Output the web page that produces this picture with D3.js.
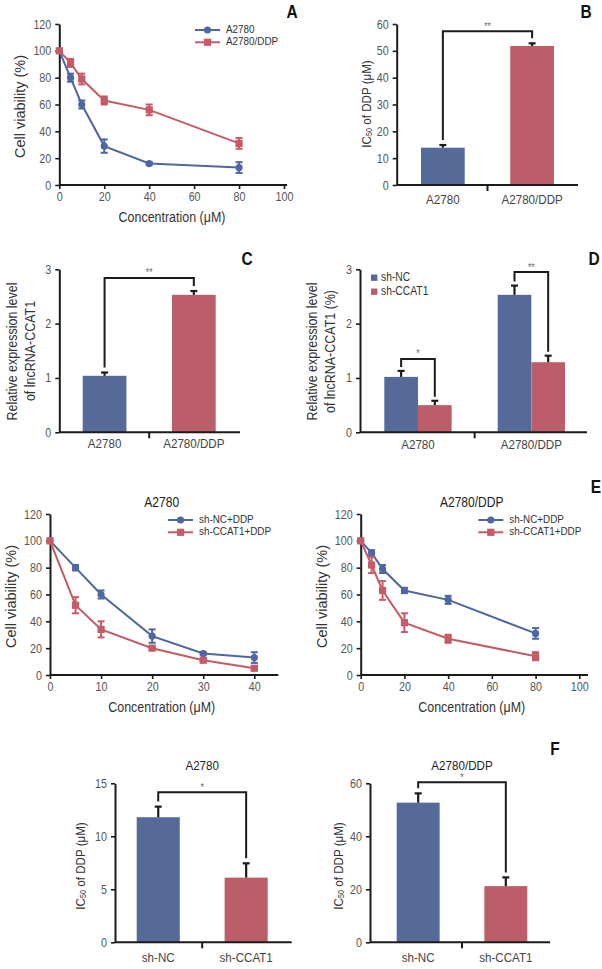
<!DOCTYPE html>
<html><head><meta charset="utf-8">
<script src="https://cdn.jsdelivr.net/npm/d3@7"></script>
<style>
body{margin:0;background:#fff}
svg{display:block}
</style></head><body><svg id="c" width="602" height="969"></svg>
<script>
// ---------------- DATA ----------------
// Panel A: dose response
const concA = [0, 5, 10, 20, 40, 80];
const a2780Viab = [100, 80, 60, 29, 16, 13];
const a2780Err  = [0, 3, 3, 5, 1, 4];
const ddpViab   = [100, 91, 79, 63, 56, 31];
const ddpErr    = [0, 3, 4, 3, 4, 4];
const viabTicks = [0, 20, 40, 60, 80, 100, 120];
const concTicksA = [0, 20, 40, 60, 80, 100];

// Panel B: IC50
const cellCats = ["A2780", "A2780/DDP"];
const ic50Vals = [13.9, 51.8];
const ic50Err  = [1.0, 1.0];
const ic50Ticks = [0, 10, 20, 30, 40, 50, 60];

// Panel C: expression
const exprVals = [1.04, 2.53];
const exprErr  = [0.06, 0.07];
const exprTicks = [0, 1, 2, 3];

// Panel D: knockdown
const shSeries = ["sh-NC", "sh-CCAT1"];
const knockVals = [[1.02, 0.50], [2.53, 1.29]];
const knockErr  = [[0.11, 0.08], [0.17, 0.12]];

// Panel E left (A2780)
const concE1 = [0, 5, 10, 20, 30, 40];
const e1NC    = [100, 80, 60, 29, 16, 13];
const e1NCErr = [0, 2, 3, 5, 1, 4];
const e1KD    = [100, 52, 34, 20, 11, 5];
const e1KDErr = [0, 6, 6, 1, 1, 1];
const concTicksE1 = [0, 10, 20, 30, 40];

// Panel E right (A2780/DDP)
const concE2 = [0, 5, 10, 20, 40, 80];
const e2NC    = [100, 91, 79, 63, 56, 31];
const e2NCErr = [0, 2, 3, 2, 3, 4];
const e2KD    = [100, 82, 63, 39, 27, 14];
const e2KDErr = [0, 6, 7, 7, 3, 3];

// Panel F
const shCats = ["sh-NC", "sh-CCAT1"];
const fA2780 = [11.8, 6.1];
const fA2780Err = [1.0, 1.35];
const fA2780Ticks = [0, 5, 10, 15];
const fDDP = [52.7, 21.2];
const fDDPErr = [3.5, 3.3];
const fDDPTicks = [0, 20, 40, 60];

// ---------------- STYLE ----------------
const BLUE = "#566a99", RED = "#bc5e69";
const LBLUE = "#4e67a2", LRED = "#c45b67";
const INK = "#1b1b1b", TICK = "#555", TITLE = "#333";
const FONT = '"Liberation Sans", Arial, sans-serif';
const SX = 0.86; // horizontal condensation of text

const svg = d3.select("#c").attr("font-family", FONT);

function styleAxis(a, fs) {
  a.attr("font-family", FONT).attr("font-size", fs || 12.5);
  a.selectAll(".tick line").attr("stroke", INK).attr("stroke-width", 1.6);
  a.selectAll(".tick text").attr("fill", TICK);
}
function yAxis(g, y, ticks, x0) {
  const a = g.append("g").attr("transform", `translate(${x0},0)`)
    .call(d3.axisLeft(y).tickValues(ticks).tickFormat(d3.format("d")).tickSize(4).tickSizeOuter(0).tickPadding(4));
  a.select(".domain").attr("stroke", INK).attr("stroke-width", 2);
  styleAxis(a);
  return a;
}
function vText(g, str, x, y, fs, sx) {
  return g.append("text").attr("transform", `translate(${x},${y}) rotate(-90)`)
    .attr("text-anchor", "middle").attr("dominant-baseline", "middle")
    .attr("font-size", fs).attr("fill", TITLE).attr("data-sx", sx || SX).text(str);
}
function ic50Title(g, x, y) {
  const t = g.append("text").attr("transform", `translate(${x},${y}) rotate(-90)`)
    .attr("text-anchor", "middle").attr("font-size", 13.5).attr("fill", TITLE)
    .attr("dominant-baseline", "middle");
  t.append("tspan").text("IC");
  t.append("tspan").text("50").attr("font-size", 8.5).attr("dy", 2);
  t.append("tspan").text(" of DDP (\u03bcM)").attr("dy", -2);
}
function panelLetter(txt, x, y) {
  svg.append("text").attr("x", x).attr("y", y).attr("text-anchor", "middle")
    .attr("dominant-baseline", "middle").attr("font-weight", "bold")
    .attr("font-size", 18).attr("fill", "#111").text(txt);
}
function marker(g, shape, cx, cy, color) {
  if (shape === "circle") g.append("circle").attr("cx", cx).attr("cy", cy).attr("r", 3.6).attr("fill", color);
  else g.append("rect").attr("x", cx - 3.6).attr("y", cy - 3.6).attr("width", 7.2).attr("height", 7.2).attr("fill", color);
}

function lineChart(cfg) {
  const g = svg.append("g");
  const x = d3.scaleLinear().domain(cfg.xDomain).range([cfg.left, cfg.xRight]);
  const y = d3.scaleLinear().domain([0, 120]).range([cfg.bottom, cfg.top]);
  const xa = g.append("g").attr("transform", `translate(0,${cfg.bottom})`)
    .call(d3.axisBottom(x).tickValues(cfg.xTicks).tickSize(4).tickPadding(3));
  xa.select(".domain").remove();
  styleAxis(xa);
  g.append("line").attr("x1", cfg.left).attr("x2", cfg.axisEnd)
    .attr("y1", cfg.bottom).attr("y2", cfg.bottom).attr("stroke", INK).attr("stroke-width", 2);
  yAxis(g, y, viabTicks, cfg.left);
  cfg.series.forEach(s => {
    const pts = s.x.map((xv, i) => ({ x: xv, y: s.y[i], e: s.err[i] }));
    g.append("path").datum(pts)
      .attr("d", d3.line().x(d => x(d.x)).y(d => y(d.y)))
      .attr("fill", "none").attr("stroke", s.color).attr("stroke-width", 2);
    pts.filter(d => d.e > 0).forEach(d => {
      const cx = x(d.x), y1 = y(d.y - d.e), y2 = y(d.y + d.e);
      g.append("line").attr("x1", cx).attr("x2", cx).attr("y1", y1).attr("y2", y2).attr("stroke", s.color).attr("stroke-width", 2);
      [y1, y2].forEach(yy => g.append("line").attr("x1", cx - 3.5).attr("x2", cx + 3.5).attr("y1", yy).attr("y2", yy).attr("stroke", s.color).attr("stroke-width", 2));
    });
    pts.forEach(d => marker(g, s.shape, x(d.x), y(d.y), s.color));
  });
  // legend
  cfg.series.forEach((s, i) => {
    const ly = cfg.legY + i * 12.3;
    g.append("line").attr("x1", cfg.legX).attr("x2", cfg.legX + 25).attr("y1", ly).attr("y2", ly)
      .attr("stroke", s.color).attr("stroke-width", 2);
    marker(g, s.shape, cfg.legX + 12.5, ly, s.color);
    g.append("text").attr("x", cfg.legX + 31).attr("y", ly).attr("dominant-baseline", "middle")
      .attr("font-size", 11.5).attr("fill", TITLE).text(s.name);
  });
  g.append("text").attr("x", cfg.xTitleX).attr("y", cfg.bottom + 33)
    .attr("text-anchor", "middle").attr("dominant-baseline", "middle")
    .attr("font-size", 14.5).attr("fill", TITLE).text("Concentration (\u03bcM)");
  vText(g, "Cell viability (%)", cfg.left - 38, (cfg.top + cfg.bottom) / 2 + 2, 14.5, 1.0);
  if (cfg.title) g.append("text").attr("x", cfg.titleX).attr("y", cfg.top - 11)
    .attr("text-anchor", "middle").attr("dominant-baseline", "middle")
    .attr("font-size", 14).attr("fill", "#222").text(cfg.title);
}

function sigBracket(g, x1, y1, x2, y2, yb, label) {
  g.append("path").attr("d", `M${x1},${y1}V${yb}H${x2}V${y2}`)
    .attr("fill", "none").attr("stroke", INK).attr("stroke-width", 2);
  g.append("text").attr("x", (x1 + x2) / 2).attr("y", yb - 1.5)
    .attr("text-anchor", "middle").attr("font-size", 10).attr("fill", "#666").text(label);
}
function whisker(g, cx, yTop, yVal) {
  g.append("line").attr("x1", cx).attr("x2", cx).attr("y1", yVal).attr("y2", yTop).attr("stroke", INK).attr("stroke-width", 2.2);
  g.append("line").attr("x1", cx - 3.5).attr("x2", cx + 3.5).attr("y1", yTop).attr("y2", yTop).attr("stroke", INK).attr("stroke-width", 2.2);
}

function barChart(cfg) {
  const g = svg.append("g");
  const y = d3.scaleLinear().domain([0, cfg.ticks[cfg.ticks.length - 1]]).range([cfg.bottom, cfg.top]);
  const x = d3.scaleBand().domain(cfg.cats).range([cfg.bandL, cfg.bandR]).paddingInner(0.51).paddingOuter(0);
  const xa = g.append("g").attr("transform", `translate(0,${cfg.bottom})`)
    .call(d3.axisBottom(x).tickSize(0).tickPadding(cfg.labPad));
  xa.select(".domain").remove();
  styleAxis(xa, 13.5);
  xa.selectAll(".tick text").attr("fill", "#444");
  g.selectAll("rect.bar").data(cfg.vals).join("rect").attr("class", "bar")
    .attr("x", (d, i) => x(cfg.cats[i])).attr("width", x.bandwidth())
    .attr("y", d => y(d)).attr("height", d => cfg.bottom - y(d))
    .attr("fill", (d, i) => i === 0 ? BLUE : RED);
  cfg.vals.forEach((v, i) => whisker(g, x(cfg.cats[i]) + x.bandwidth() / 2, y(v + cfg.err[i]), y(v)));
  g.append("line").attr("x1", cfg.left).attr("x2", cfg.axisEnd).attr("y1", cfg.bottom).attr("y2", cfg.bottom)
    .attr("stroke", INK).attr("stroke-width", 2);
  const mid = (x(cfg.cats[0]) + x(cfg.cats[1]) + x.bandwidth()) / 2;
  g.append("line").attr("x1", mid).attr("x2", mid).attr("y1", cfg.bottom).attr("y2", cfg.bottom + 6)
    .attr("stroke", INK).attr("stroke-width", 2);
  yAxis(g, y, cfg.ticks, cfg.left);
  const c0 = x(cfg.cats[0]) + x.bandwidth() / 2, c1 = x(cfg.cats[1]) + x.bandwidth() / 2;
  sigBracket(g, c0, y(cfg.vals[0] + cfg.err[0]) - 5, c1, y(cfg.vals[1] + cfg.err[1]) - 5, y(cfg.sigAt), cfg.sig);
  if (cfg.title) g.append("text").attr("x", mid).attr("y", cfg.top - 17)
    .attr("text-anchor", "middle").attr("dominant-baseline", "middle")
    .attr("font-size", 13.5).attr("fill", "#222").text(cfg.title);
  return g;
}

// ---------------- PANEL A ----------------
lineChart({
  left: 59.3, xRight: 284, axisEnd: 287, bottom: 185, top: 24,
  xDomain: [0, 100], xTicks: concTicksA, xTitleX: 172,
  legX: 195, legY: 30,
  series: [
    { name: "A2780", x: concA, y: a2780Viab, err: a2780Err, color: LBLUE, shape: "circle" },
    { name: "A2780/DDP", x: concA, y: ddpViab, err: ddpErr, color: LRED, shape: "square" }
  ]
});
panelLetter("A", 292, 13);

// ---------------- PANEL B ----------------
const gB = barChart({
  cats: cellCats, vals: ic50Vals, err: ic50Err, ticks: ic50Ticks, sigAt: 57.3, sig: "**",
  left: 396.7, axisEnd: 578, bandL: 421, bandR: 554, bottom: 185, top: 24, labPad: 9
});
ic50Title(gB, 368, 104);
panelLetter("B", 586, 13);

// ---------------- PANEL C ----------------
const gC = barChart({
  cats: cellCats, vals: exprVals, err: exprErr, ticks: exprTicks, sigAt: 2.84, sig: "**",
  left: 59.3, axisEnd: 240, bandL: 82.7, bandR: 215.7, bottom: 432.3, top: 269.3, labPad: 6
});
vText(gC, "Relative expression level", 13.5, 351.5, 14.5);
vText(gC, "of lncRNA-CCAT1", 31.5, 351, 14.5);
panelLetter("C", 247, 260);

// ---------------- PANEL D ----------------
(function () {
  const g = svg.append("g");
  const left = 360, bottom = 432.3, top = 269.3;
  const y = d3.scaleLinear().domain([0, 3]).range([bottom, top]);
  const x0 = d3.scaleBand().domain(cellCats).range([384.3, 565]).paddingInner(0.406).paddingOuter(0);
  const x1 = d3.scaleBand().domain(shSeries).range([0, x0.bandwidth()]).padding(0);
  const xa = g.append("g").attr("transform", `translate(0,${bottom})`)
    .call(d3.axisBottom(x0).tickSize(0).tickPadding(7));
  xa.select(".domain").remove();
  styleAxis(xa, 13.5);
  xa.selectAll(".tick text").attr("fill", "#444");
  cellCats.forEach((c, gi) => {
    shSeries.forEach((s, si) => {
      const v = knockVals[gi][si], e = knockErr[gi][si];
      g.append("rect").attr("x", x0(c) + x1(s)).attr("width", x1.bandwidth())
        .attr("y", y(v)).attr("height", bottom - y(v)).attr("fill", si === 0 ? BLUE : RED);
      whisker(g, x0(c) + x1(s) + x1.bandwidth() / 2, y(v + e), y(v));
    });
  });
  g.append("line").attr("x1", left).attr("x2", 587).attr("y1", bottom).attr("y2", bottom)
    .attr("stroke", INK).attr("stroke-width", 2);
  const mid = (x0(cellCats[0]) + x0(cellCats[1]) + x0.bandwidth()) / 2;
  g.append("line").attr("x1", mid).attr("x2", mid).attr("y1", bottom).attr("y2", bottom + 6)
    .attr("stroke", INK).attr("stroke-width", 2);
  yAxis(g, y, exprTicks, left);
  const sigs = [{ at: 1.35, lab: "*" }, { at: 2.95, lab: "**" }];
  cellCats.forEach((c, gi) => {
    const ca = x0(c) + x1("sh-NC") + x1.bandwidth() / 2;
    const cb = x0(c) + x1("sh-CCAT1") + x1.bandwidth() / 2;
    sigBracket(g, ca, y(knockVals[gi][0] + knockErr[gi][0]) - 4, cb, y(knockVals[gi][1] + knockErr[gi][1]) - 4, y(sigs[gi].at), sigs[gi].lab);
  });
  shSeries.forEach((s, i) => {
    const ly = 277.7 + i * 14;
    g.append("rect").attr("x", 371).attr("y", ly - 3.2).attr("width", 6.4).attr("height", 6.4).attr("fill", i === 0 ? BLUE : RED);
    g.append("text").attr("x", 381).attr("y", ly).attr("dominant-baseline", "middle")
      .attr("font-size", 12).attr("fill", TITLE).text(s);
  });
  vText(g, "Relative expression level", 313.5, 351.5, 14.5);
  vText(g, "of lncRNA-CCAT1 (%)", 331.5, 351.5, 14.5);
})();
panelLetter("D", 594, 260);

// ---------------- PANEL E ----------------
lineChart({
  left: 50, xRight: 254.3, axisEnd: 278.3, bottom: 675, top: 514,
  xDomain: [0, 40], xTicks: concTicksE1, title: "A2780", titleX: 161.7, xTitleX: 161.7,
  legX: 168, legY: 520,
  series: [
    { name: "sh-NC+DDP", x: concE1, y: e1NC, err: e1NCErr, color: LBLUE, shape: "circle" },
    { name: "sh-CCAT1+DDP", x: concE1, y: e1KD, err: e1KDErr, color: LRED, shape: "square" }
  ]
});
lineChart({
  left: 360.7, xRight: 579.3, axisEnd: 588, bottom: 675, top: 514,
  xDomain: [0, 100], xTicks: concTicksA, title: "A2780/DDP", titleX: 471.7, xTitleX: 471.7,
  legX: 478.3, legY: 520,
  series: [
    { name: "sh-NC+DDP", x: concE2, y: e2NC, err: e2NCErr, color: LBLUE, shape: "circle" },
    { name: "sh-CCAT1+DDP", x: concE2, y: e2KD, err: e2KDErr, color: LRED, shape: "square" }
  ]
});
panelLetter("E", 596, 488);

// ---------------- PANEL F ----------------
const gF1 = barChart({
  cats: shCats, vals: fA2780, err: fA2780Err, ticks: fA2780Ticks, sigAt: 14.15, sig: "*", title: "A2780",
  left: 115, axisEnd: 291.7, bandL: 136.7, bandR: 267.7, bottom: 942.3, top: 783.3, labPad: 10
});
ic50Title(gF1, 82, 866);
const gF2 = barChart({
  cats: shCats, vals: fDDP, err: fDDPErr, ticks: fDDPTicks, sigAt: 60.4, sig: "*", title: "A2780/DDP",
  left: 370, axisEnd: 550, bandL: 396.7, bandR: 527.3, bottom: 942.3, top: 783.3, labPad: 10
});
ic50Title(gF2, 340, 866);
panelLetter("F", 555, 750);

// ---------------- condense all text horizontally ----------------
svg.selectAll("text").each(function () {
  const t = d3.select(this);
  const sx = t.attr("data-sx") ? +t.attr("data-sx") : SX;
  const x = +(t.attr("x") || 0), y = +(t.attr("y") || 0);
  const tr = t.attr("transform") || "";
  t.attr("x", null).attr("y", null)
    .attr("transform", `${tr} translate(${x},${y}) scale(${sx},1)`);
});
</script></body></html>
